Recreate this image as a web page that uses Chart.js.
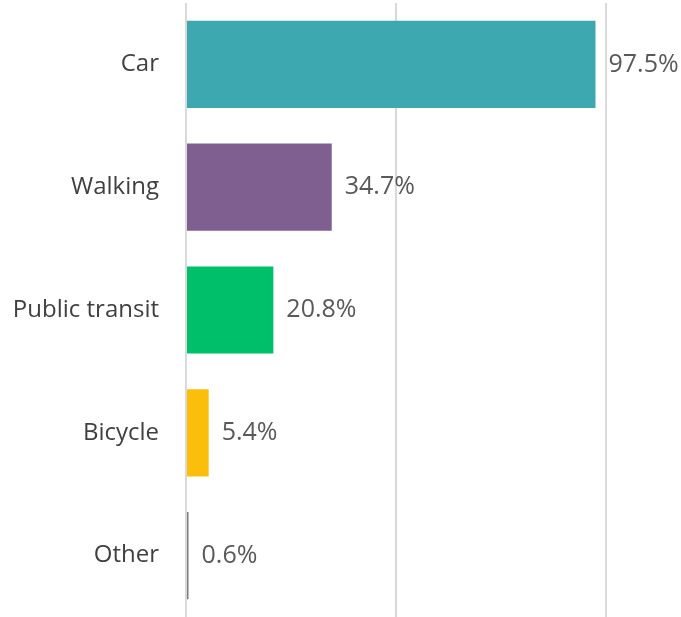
<!DOCTYPE html>
<html>
<head>
<meta charset="utf-8">
<script src="https://cdn.jsdelivr.net/npm/chart.js@4"></script>
<style>
    html, body { margin: 0; padding: 0; background: #fff; }
    #modeChart { display: block; }
</style>
</head>
<body>
<canvas id="modeChart" width="681" height="617"></canvas>
<script>
// Share of trips by travel mode (%)
const modes = ['Car', 'Walking', 'Public transit', 'Bicycle', 'Other'];
const shares = [97.5, 34.7, 20.8, 5.4, 0.6];
const barColors = ['#3ea8b1', '#7f5f8f', '#00bf6b', '#fbbf0b', '#7f7f7f'];

// Writes the value to the right of each bar
const valueLabels = {
    id: 'valueLabels',
    afterDatasetsDraw(chart) {
        const ctx = chart.ctx;
        const meta = chart.getDatasetMeta(0);
        ctx.save();
        ctx.font = '25px "Open Sans"';
        ctx.fillStyle = '#595959';
        ctx.textAlign = 'left';
        ctx.textBaseline = 'middle';
        meta.data.forEach((bar, i) => {
            ctx.fillText(shares[i].toFixed(1) + '%', bar.x + 13, bar.y);
        });
        ctx.restore();
    }
};

new Chart(document.getElementById('modeChart').getContext('2d'), {
    type: 'bar',
    data: {
        labels: modes,
        datasets: [{
            data: shares,
            backgroundColor: barColors,
            borderWidth: 0,
            barPercentage: 0.71,
            categoryPercentage: 1
        }]
    },
    options: {
        indexAxis: 'y',
        responsive: false,
        animation: false,
        layout: { padding: { top: 3, right: 75, bottom: 0, left: 0 } },
        plugins: {
            legend: { display: false },
            tooltip: { enabled: false }
        },
        scales: {
            x: {
                min: 0,
                max: 100,
                afterFit(scale) { scale.height = 0; },
                ticks: { display: false, stepSize: 50 },
                grid: { color: '#d9d9d9', lineWidth: 2, drawTicks: false },
                border: { display: false }
            },
            y: {
                afterFit(scale) {
                    scale.width = 186;
                    scale.paddingTop = 0;
                    scale.paddingBottom = 0;
                },
                ticks: {
                    color: '#404040',
                    padding: 27,
                    font: { family: '"Open Sans"', size: 24 }
                },
                grid: { display: false, drawTicks: false },
                border: { display: false }
            }
        }
    },
    plugins: [valueLabels]
});
</script>
</body>
</html>
